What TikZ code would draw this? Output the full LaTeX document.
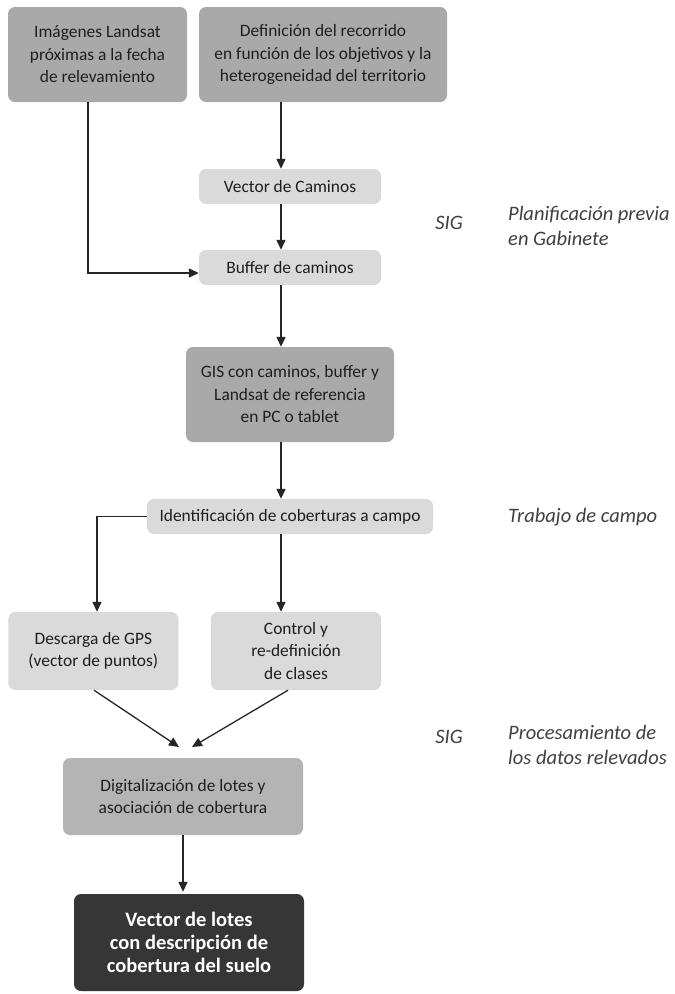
\documentclass[tikz,border=0pt]{standalone}
\usepackage{fontspec}
\setmainfont{Carlito}
\usetikzlibrary{arrows.meta}
\definecolor{boxdark}{HTML}{A9A9A9}
\definecolor{boxmid}{HTML}{B4B4B4}
\definecolor{boxlight}{HTML}{DADADA}
\definecolor{boxblack}{HTML}{363636}
\definecolor{txt}{HTML}{1E1E1E}
\definecolor{note}{HTML}{404040}
\begin{document}
\begin{tikzpicture}[x=1pt,y=-1pt,
  box/.style={rectangle,rounded corners=7pt,draw=none,align=center,inner sep=0pt,
    text=txt,font=\fontsize{17.4}{22.5}\selectfont},
  darkbox/.style={box,fill=boxdark},
  midbox/.style={box,fill=boxmid},
  lightbox/.style={box,fill=boxlight},
  finalbox/.style={box,fill=boxblack,text=white,font=\fontsize{20.5}{22.8}\selectfont\bfseries},
  note/.style={text=note,font=\fontsize{20.5}{25}\selectfont\itshape,align=left,inner sep=0pt},
  arr/.style={draw=black!85,line width=1.3pt,-{Triangle[length=10pt,width=9pt]}}]
\useasboundingbox[fill=white] (0,0) rectangle (675,994);

% planning boxes
\node[darkbox,minimum width=179pt,minimum height=95pt] (img) at (97.5,54.5)
  {Imágenes Landsat\\próximas a la fecha\\de relevamiento};
\node[darkbox,minimum width=248pt,minimum height=95pt] (def) at (323,54.5)
  {Definición del recorrido\\en función de los objetivos y la\\heterogeneidad del territorio};
\node[lightbox,minimum width=182pt,minimum height=35pt] (vec) at (290,186.5) {Vector de Caminos};
\node[lightbox,minimum width=182pt,minimum height=35pt] (buf) at (290,267.5) {Buffer de caminos};
\node[darkbox,minimum width=208pt,minimum height=95pt] (gis) at (290,394.5)
  {GIS con caminos, buffer y\\Landsat de referencia\\en PC o tablet};

% field work
\node[lightbox,minimum width=286pt,minimum height=35pt] (ident) at (290,516.5)
  {Identificación de coberturas a campo};
\node[lightbox,minimum width=170pt,minimum height=78pt] (gps) at (93.3,651)
  {Descarga de GPS\\(vector de puntos)};
\node[lightbox,minimum width=170pt,minimum height=78pt] (ctrl) at (296,651)
  {Control y\\re-definición\\de clases};

% processing
\node[midbox,minimum width=240pt,minimum height=77pt] (dig) at (183,796.5)
  {Digitalización de lotes y\\asociación de cobertura};
\node[finalbox,minimum width=230pt,minimum height=97pt] (fin) at (189,942.5)
  {Vector de lotes\\con descripción de\\cobertura del suelo};

% stage labels
\node[note] (sig1) at (449,223) {SIG};
\node[note,anchor=west] (plan) at (508,226) {Planificación previa\\en Gabinete};
\node[note,anchor=west] (campo) at (508,517) {Trabajo de campo};
\node[note] (sig2) at (449,737) {SIG};
\node[note,anchor=west] (proc) at (508,745) {Procesamiento de\\los datos relevados};

% main column
\coordinate (col) at (281,0);
\coordinate (imgx) at (88,0);
\coordinate (gpsx) at (97,0);
\coordinate (digin1) at (179,747);
\coordinate (digin2) at (192,747);

\draw[arr] (def.south -| col) -- (vec.north -| col);
\draw[arr] (vec.south -| col) -- (buf.north -| col);
\draw[arr] (img.south -| imgx) |- ([yshift=-5.5pt]buf.west);
\draw[arr] (buf.south -| col) -- (gis.north -| col);
\draw[arr] (gis.south -| col) -- (ident.north -| col);
\draw[arr] (ident.west) -| (gps.north -| gpsx);
\draw[arr] (ident.south -| col) -- (ctrl.north -| col);
\draw[arr] ([xshift=0.7pt]gps.south) -- (digin1);
\draw[arr] ([xshift=-8pt]ctrl.south) -- (digin2);
\draw[arr] (dig.south) -- ([yshift=2pt]fin.north -| dig.south);
\end{tikzpicture}
\end{document}
